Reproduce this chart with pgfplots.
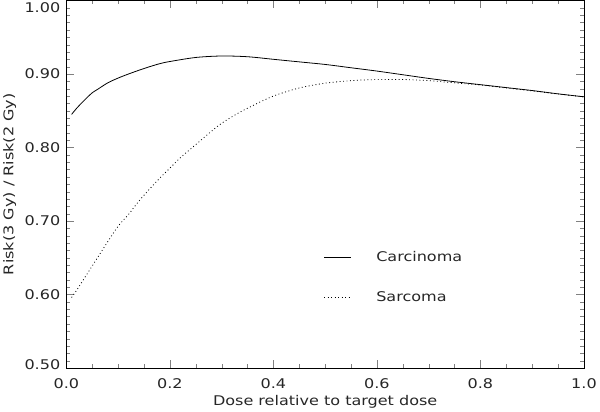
\documentclass[border=0pt]{standalone}
\usepackage{fontspec}
\setmainfont{DejaVu Sans}[FakeStretch=1.2]
\usepackage{pgfplots}
\pgfplotsset{compat=1.18}

\pgfplotstableread{
x y
0.01 0.845
0.02 0.8535
0.03 0.861
0.04 0.868
0.05 0.8745
0.06 0.879
0.08 0.888
0.10 0.8945
0.12 0.900
0.15 0.9075
0.18 0.914
0.20 0.917
0.25 0.9225
0.30 0.9245
0.35 0.9235
0.40 0.920
0.45 0.9165
0.50 0.913
0.55 0.9085
0.60 0.904
0.65 0.899
0.70 0.894
0.75 0.8895
0.80 0.8855
0.85 0.8815
0.90 0.8775
0.95 0.873
1.00 0.869
}\carcinoma

\pgfplotstableread{
x y
0.01 0.596
0.02 0.606
0.03 0.617
0.04 0.628
0.05 0.639
0.06 0.650
0.08 0.672
0.10 0.693
0.12 0.709
0.14 0.727
0.16 0.743
0.18 0.758
0.20 0.772
0.22 0.786
0.25 0.804
0.28 0.822
0.30 0.833
0.33 0.846
0.36 0.857
0.40 0.870
0.45 0.881
0.50 0.8875
0.55 0.891
0.60 0.8925
0.65 0.8925
0.70 0.891
0.75 0.888
0.80 0.885
0.85 0.881
0.90 0.877
0.95 0.8728
1.00 0.869
}\sarcoma

\begin{document}
\begin{tikzpicture}
\begin{axis}[
  scale only axis, width=521bp, height=370bp,
  xmin=0, xmax=1, ymin=0.5, ymax=1.0,
  xtick={0,0.2,0.4,0.6,0.8,1.0},
  ytick={0.5,0.6,0.7,0.8,0.9,1.0},
  yticklabels={\raisebox{-1.25bp}[0bp][0bp]{0.50},0.60,0.70,0.80,0.90,\raisebox{-11.75bp}[0bp][0bp]{1.00}},
  minor x tick num=3, minor y tick num=9,
  major tick length=8bp, minor tick length=4bp,
  /pgf/number format/assume math mode=true,
  ticklabel style={font=\fontsize{13.5}{13.5}\selectfont, text=black!85},
  xticklabel style={/pgf/number format/fixed, /pgf/number format/fixed zerofill,
    /pgf/number format/precision=1, anchor=center, yshift=-16bp},
  yticklabel style={inner sep=0pt, xshift=-6bp},
  xlabel={Dose relative to target dose},
  ylabel={Risk(3 Gy) / Risk(2 Gy)},
  label style={font=\fontsize{13.5}{13.5}\selectfont, text=black!85},
  xlabel style={at={(axis description cs:0.5,-0.0905)}, anchor=center},
  ylabel style={at={(axis description cs:-0.1094,0.5)}, anchor=center},
  legend style={at={(axis cs:0.497,0.662)}, anchor=north west,
    draw=none, fill=none, inner sep=0pt, row sep=25.5bp,
    font=\fontsize{13.5}{13.5}\selectfont, text=black!85,
    /tikz/every odd column/.append style={column sep=23bp}},
  legend cell align=left,
  legend image code/.code={\draw[#1] (0bp,0bp) -- (27bp,0bp);},
]
\addplot[black, line width=0.8bp, smooth] table {\carcinoma};
\addlegendentry{Carcinoma}
\addplot[black, line width=0.8bp, dash pattern=on 0.9bp off 2.6bp, smooth] table {\sarcoma};
\addlegendentry{Sarcoma}
\end{axis}
\end{tikzpicture}
\end{document}
